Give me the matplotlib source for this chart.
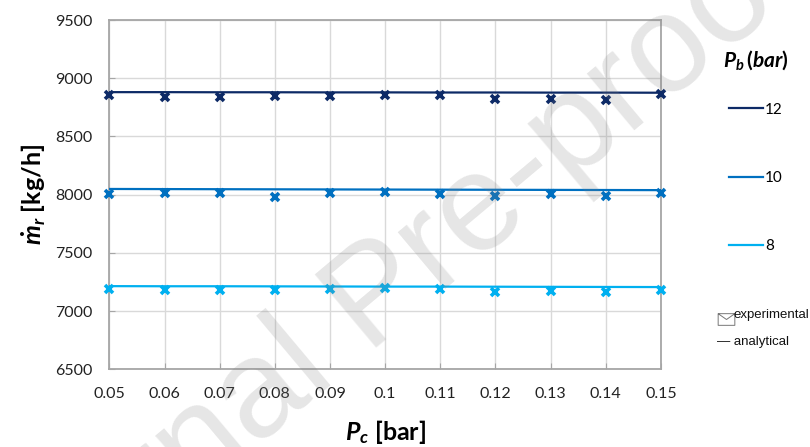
import matplotlib
matplotlib.use("Agg")
import matplotlib.pyplot as plt
from matplotlib.lines import Line2D
from matplotlib.path import Path

plt.rcParams['font.family'] = ['Lato', 'DejaVu Sans']
plt.rcParams['mathtext.fontset'] = 'custom'
plt.rcParams['mathtext.it'] = 'Lato:italic:bold'
plt.rcParams['mathtext.rm'] = 'Lato:bold'

# condenser pressure [bar]
pc = [0.05, 0.06, 0.07, 0.08, 0.09, 0.10, 0.11, 0.12, 0.13, 0.14, 0.15]
pc_labels = ['0.05', '0.06', '0.07', '0.08', '0.09', '0.1', '0.11', '0.12', '0.13', '0.14', '0.15']

# refrigerant mass flow [kg/h] for each boiler pressure
exp_12 = [8857, 8837, 8837, 8849, 8849, 8857, 8857, 8820, 8820, 8814, 8863]
ana_12 = [8881, 8881, 8880, 8880, 8879, 8879, 8878, 8878, 8877, 8877, 8876]
exp_10 = [8007, 8014, 8014, 7980, 8017, 8023, 8003, 7991, 8003, 7986, 8011]
ana_10 = [8049, 8048, 8047, 8046, 8045, 8044, 8043, 8042, 8041, 8040, 8039]
exp_8 = [7186, 7180, 7180, 7177, 7186, 7195, 7186, 7163, 7171, 7163, 7180]
ana_8 = [7214, 7213, 7213, 7212, 7211, 7210, 7210, 7209, 7208, 7207, 7206]

pb_labels = ['12', '10', '8']
colors = ['#0d2a66', '#0070c0', '#00b0f0']

fig = plt.figure(figsize=(8.1, 4.47), dpi=100)
ax = fig.add_axes([0.135, 0.174, 0.681, 0.781])
ax.patch.set_facecolor('none')

series = [(exp_12, ana_12), (exp_10, ana_10), (exp_8, ana_8)]
handles = []
for (e, a), c in zip(series, colors):
    ax.plot(pc, a, color=c, lw=1.6, zorder=3)
    ax.plot(pc, e, ls='none', marker='x', ms=6, mew=2.6, color=c, zorder=4,
            clip_on=False)
    handles.append(Line2D([], [], color=c, lw=1.6))

ax.set_xlim(0.05, 0.15)
ax.set_ylim(6500, 9500)
ax.set_xticks(pc)
ax.set_xticklabels(pc_labels)
ax.set_yticks(range(6500, 9501, 500))
ax.grid(True, color='#d9d9d9', lw=1)
ax.set_axisbelow(True)
for s in ax.spines.values():
    s.set_color('#a6a6a6')
    s.set_linewidth(1.3)
ax.tick_params(direction='in', length=4, color='#a6a6a6', labelsize=11.5,
               labelcolor='#222222')
ax.tick_params(axis='x', pad=13)
ax.tick_params(axis='y', pad=12)

ax.set_xlabel(r'$P_c$ [bar]', fontsize=18, fontweight='bold', labelpad=12)
ax.set_ylabel(r'$\dot{m}_r$ [kg/h]', fontsize=18, fontweight='bold', labelpad=5)

leg = fig.legend(handles, pb_labels, loc='upper left',
                 bbox_to_anchor=(0.885, 0.905), frameon=False,
                 fontsize=11, labelspacing=3.55, handlelength=2.2,
                 handletextpad=0.15, title=r'$P_b\,(bar)$',
                 title_fontsize=15, borderaxespad=0)
leg._legend_box.sep = 22

# envelope-shaped key symbol
env = Path([(-1, -0.7), (1, -0.7), (1, 0.7), (-1, 0.7), (-1, -0.7),
            (-1, 0.7), (0, 0), (1, 0.7)],
           [Path.MOVETO, Path.LINETO, Path.LINETO, Path.LINETO, Path.CLOSEPOLY,
            Path.MOVETO, Path.LINETO, Path.LINETO])
fig.add_artist(Line2D([0.896], [1 - 319 / 447], marker=env, ms=12,
                      mfc='none', mec='#777777', mew=0.7,
                      transform=fig.transFigure))
fig.text(0.906, 1 - 315 / 447, 'experimental', fontsize=9.5,
         family='Liberation Sans', va='center', color='#111111')
fig.text(0.885, 1 - 342 / 447, '— analytical', fontsize=9.5,
         family='Liberation Sans', va='center', color='#111111')

fig.text(0.465, 0.33, 'Journal Pre-proof', fontsize=100,
         family='Liberation Sans', color='#808080', alpha=0.2,
         rotation=40, ha='center', va='center', rotation_mode='anchor',
         zorder=10)

fig.savefig('out.png', dpi=100)
